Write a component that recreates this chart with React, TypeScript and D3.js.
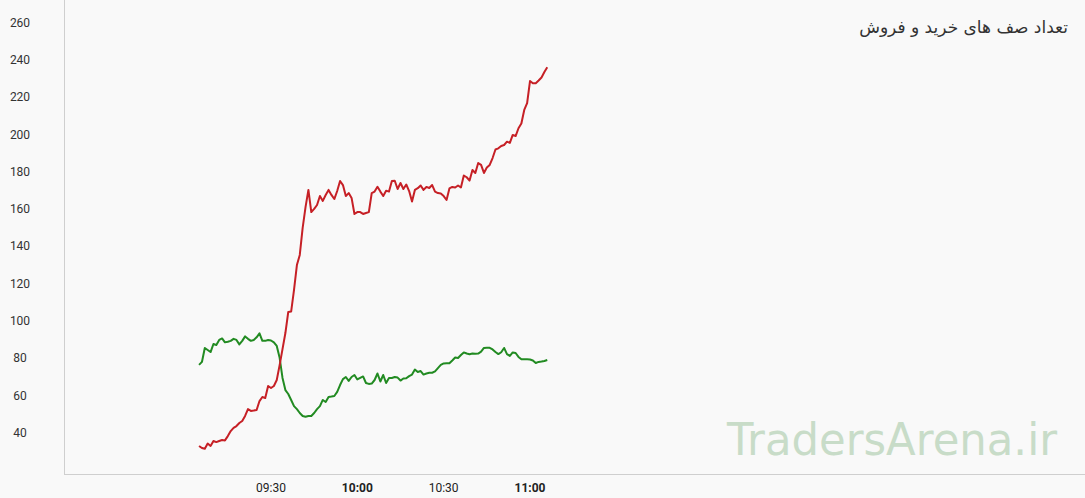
import React from "react";
import * as d3 from "d3";

const startTime = "09:05";
const redValues = [
  32.5, 31.4, 31.0, 33.8, 32.5, 35.2, 34.6, 35.2, 35.7, 35.5,
  37.8, 40.5, 42.2, 43.2, 44.8, 45.9, 48.6, 52.3, 51.3, 51.5,
  51.8, 56.6, 58.8, 58.2, 64.7, 63.6, 64.7, 67.9, 75.9, 84.5,
  93.1, 104.4, 104.6, 116.2, 129.6, 135.0, 149.5, 160.7, 169.9, 158.0,
  159.7, 161.8, 166.6, 164.0, 167.2, 169.9, 167.2, 165.0, 169.3, 174.7,
  172.5, 166.6, 168.2, 165.6, 157.0, 158.0, 158.0, 157.0, 157.5, 158.0,
  168.2, 169.0, 171.6, 169.0, 166.6, 169.5, 169.0, 174.7, 174.8, 170.4,
  173.6, 170.4, 172.8, 169.3, 163.7, 169.9, 170.8, 172.3, 169.9, 171.5,
  170.9, 172.5, 169.0, 168.2, 168.0, 166.6, 164.5, 170.7, 171.5, 171.2,
  172.3, 171.2, 177.6, 176.7, 174.9, 180.6, 179.0, 184.3, 183.3, 179.0,
  181.9, 183.3, 187.0, 191.6, 192.2, 193.5, 194.0, 195.8, 195.1, 199.4,
  198.8, 203.0, 205.5, 212.8, 216.5, 228.3, 227.1, 227.1, 228.6, 230.2,
  233.2, 235.7,
];
const greenValues = [
  76.0, 77.6, 85.1, 84.0, 82.9, 87.2, 86.7, 89.4, 90.2, 88.1,
  88.4, 88.9, 90.0, 89.4, 87.0, 88.9, 91.3, 90.0, 88.9, 89.4,
  90.8, 92.9, 88.9, 88.9, 89.4, 89.1, 88.1, 86.2, 79.8, 69.0,
  62.5, 60.4, 57.2, 53.9, 52.3, 50.2, 48.6, 48.2, 48.6, 48.6,
  50.2, 52.3, 53.9, 57.2, 56.1, 58.8, 59.0, 59.3, 61.5, 65.2,
  68.4, 69.5, 67.4, 69.5, 70.6, 68.2, 69.0, 69.8, 66.3, 65.8,
  66.0, 67.9, 71.4, 67.1, 70.6, 66.3, 69.0, 69.0, 69.5, 69.2,
  67.6, 68.7, 68.8, 70.0, 70.8, 73.5, 72.2, 72.7, 70.8, 71.4,
  71.8, 71.8, 72.5, 74.3, 76.0, 76.8, 76.9, 76.9, 78.4, 80.0,
  79.7, 81.3, 82.7, 82.1, 81.7, 82.1, 82.0, 82.1, 83.1, 85.1,
  85.2, 85.2, 84.3, 82.9, 81.8, 82.8, 85.1, 81.8, 80.8, 82.7,
  82.4, 80.3, 79.0, 79.0, 79.0, 78.9, 78.4, 77.0, 77.6, 77.8,
  78.1, 78.6,
];
const yTicks = [40, 60, 80, 100, 120, 140, 160, 180, 200, 220, 240, 260];
const xTickLabels = ["09:30", "10:00", "10:30", "11:00"];
const boldTicks = ["10:00", "11:00"];
const title = "تعداد صف های خرید و فروش";
const watermark = "TradersArena.ir";

const W = 1085;
const H = 498;

const parse = d3.timeParse("%H:%M");
const t0 = parse(startTime) as Date;
const timeAt = (i: number) => d3.timeMinute.offset(t0, i);

export default function App() {
  const x = d3
    .scaleTime()
    .domain([parse("09:30") as Date, parse("11:00") as Date])
    .range([271, 530]);
  const y = d3.scaleLinear().domain([40, 260]).range([432, 22]);

  const line = d3
    .line<number>()
    .x((_, i) => x(timeAt(i)))
    .y((d) => y(d));

  const plotLeft = 64;
  const plotBottom = 474;

  return (
    <div style={{ position: "fixed", left: 0, top: 0 }}>
      <svg width={W} height={H} style={{ display: "block" }}>
        <rect x={0} y={0} width={W} height={H} fill="#f9f9f9" />
        <text
          x={1057}
          y={455}
          fontFamily="'DejaVu Sans', sans-serif"
          fontSize={44}
          fill="#c8dcc8"
          textAnchor="end"
          textLength={330}
          lengthAdjust="spacingAndGlyphs"
        >
          {watermark}
        </text>
        <line x1={plotLeft + 0.5} x2={plotLeft + 0.5} y1={0} y2={plotBottom} stroke="#cfcfcf" />
        <line x1={plotLeft} x2={W} y1={plotBottom + 0.5} y2={plotBottom + 0.5} stroke="#cfcfcf" />
        {yTicks.map((t) => (
          <text
            key={t}
            x={20}
            y={y(t)}
            dy="0.4em"
            textAnchor="middle"
            fontFamily="Roboto, sans-serif"
            fontSize={12}
            fill="#333"
          >
            {t}
          </text>
        ))}
        {xTickLabels.map((t) => (
          <text
            key={t}
            x={x(parse(t) as Date)}
            y={492}
            textAnchor="middle"
            fontFamily="Roboto, sans-serif"
            fontSize={12}
            fontWeight={boldTicks.includes(t) ? "bold" : "normal"}
            fill="#222"
          >
            {t}
          </text>
        ))}
        <path d={line(greenValues) || ""} fill="none" stroke="#228b22" strokeWidth={2} strokeLinejoin="round" />
        <path d={line(redValues) || ""} fill="none" stroke="#c62026" strokeWidth={2} strokeLinejoin="round" />
        <text
          x={1068}
          y={33}
          textAnchor="end"
          fontFamily="'DejaVu Sans', sans-serif"
          fontSize={17}
          fill="#333"
        >
          {title}
        </text>
      </svg>
    </div>
  );
}
